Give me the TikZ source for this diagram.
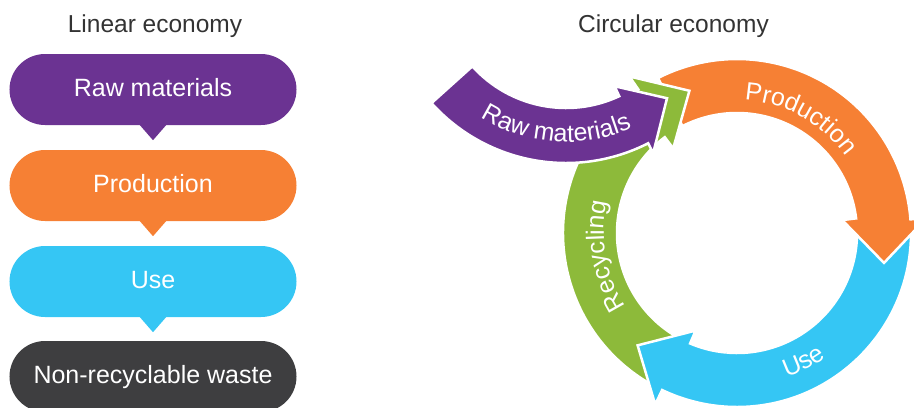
\documentclass[tikz,border=0pt]{standalone}
\usepackage{fontspec}
\setmainfont{Liberation Sans}
\usetikzlibrary{decorations.text}
\definecolor{cpurple}{RGB}{107,51,146}
\definecolor{corange}{RGB}{246,128,52}
\definecolor{ccyan}{RGB}{53,198,244}
\definecolor{cdark}{RGB}{62,62,64}
\definecolor{cgreen}{RGB}{141,186,58}
\definecolor{ctitle}{RGB}{51,51,51}
\newcommand\dgfont{\fontsize{25bp}{30bp}\selectfont}
\begin{document}
\begin{tikzpicture}[x=1bp,y=1bp,
  lbox/.style={rectangle, rounded corners=35.5bp, minimum width=287bp, minimum height=71bp,
    inner sep=0pt, text=white, font=\dgfont, text height=18bp, text depth=4bp},
  titletext/.style={font=\fontsize{24.5bp}{29bp}\selectfont, text=ctitle, inner sep=0pt, anchor=base},
  arrowshape/.style={draw=white, line width=2.5bp, line join=miter},
  arctext/.style={decorate, decoration={text along path, text align=center, text color=white, text={#1}}}
]
\useasboundingbox (0,0) rectangle (914,-407);
\begin{scope}
\clip (0,0) rectangle (914,-407);

% titles
\node[titletext] (tlin) at (155,-32) {Linear economy};
\node[titletext] (tcirc) at (673.5,-32) {Circular economy};

% linear economy
\node[lbox, fill=cpurple] (lraw) at (153,-89.5) {Raw materials};
\fill[cpurple] (lraw.south) ++(-13.5,0.5) -- ++(13.5,-15.5) -- ++(13.5,15.5) -- cycle;
\node[lbox, fill=corange] (lprod) at (153,-185.5) {Production};
\fill[corange] (lprod.south) ++(-13.5,0.5) -- ++(13.5,-15.5) -- ++(13.5,15.5) -- cycle;
\node[lbox, fill=ccyan] (luse) at (153,-281.5) {Use};
\fill[ccyan] (luse.south) ++(-13.5,0.5) -- ++(13.5,-15.5) -- ++(13.5,15.5) -- cycle;
\node[lbox, fill=cdark] (lwaste) at (153,-376.5) {Non-recyclable waste};

% circular economy
\begin{scope}[shift={(737,-233)}]
  % use (blue)
  \path[arrowshape, fill=ccyan] (0:174) arc[start angle=0, end angle=-115.5, radius=174]
    -- (-115.5:190) -- (-131.5:150) -- (-113:106) -- (-113:120)
    arc[start angle=-113, end angle=0, radius=120] -- cycle;
  % production (orange)
  \path[arrowshape, fill=corange] (117:174) arc[start angle=117, end angle=4.5, radius=174]
    -- (4.5:190) -- (-11.5:150) -- (7:106) -- (7:120)
    arc[start angle=7, end angle=117, radius=120] -- cycle;
  % recycling (green)
  \path[arrowshape, fill=cgreen] (240:174) arc[start angle=240, end angle=124.5, radius=174]
    -- (124.5:190) -- (108.5:150) -- (127:106) -- (127:120)
    arc[start angle=127, end angle=240, radius=120] -- cycle;
  % blue head again, above the green tail
  \begin{scope}
    \clip (0,0) -- (195:260) arc[start angle=195, end angle=265, radius=260] -- cycle;
    \path[arrowshape, fill=ccyan] (0:174) arc[start angle=0, end angle=-115.5, radius=174]
      -- (-115.5:190) -- (-131.5:150) -- (-113:106) -- (-113:120)
      arc[start angle=-113, end angle=0, radius=120] -- cycle;
  \end{scope}
  % labels
  \path[arctext={|\dgfont|Production}] (101:133) arc[start angle=101, end angle=21, radius=133];
  \path[arctext={|\dgfont|Recycling}] (230:133) arc[start angle=230, end angle=150, radius=133];
  \path[arctext={|\dgfont|Use}] (-92.7:153) arc[start angle=-92.7, end angle=-32.7, radius=153];
\end{scope}

% raw materials (purple)
\begin{scope}[shift={(566,18)}]
  \path[arrowshape, fill=cpurple] (222:181) arc[start angle=222, end angle=297, radius=181]
    -- (297:192) -- (311:154) -- (295:115) -- (295:126)
    arc[start angle=295, end angle=222, radius=126] -- cycle;
  \path[arctext={|\dgfont|Raw materials}] (226:160) arc[start angle=226, end angle=306, radius=160];
\end{scope}
\end{scope}
\end{tikzpicture}
\end{document}
